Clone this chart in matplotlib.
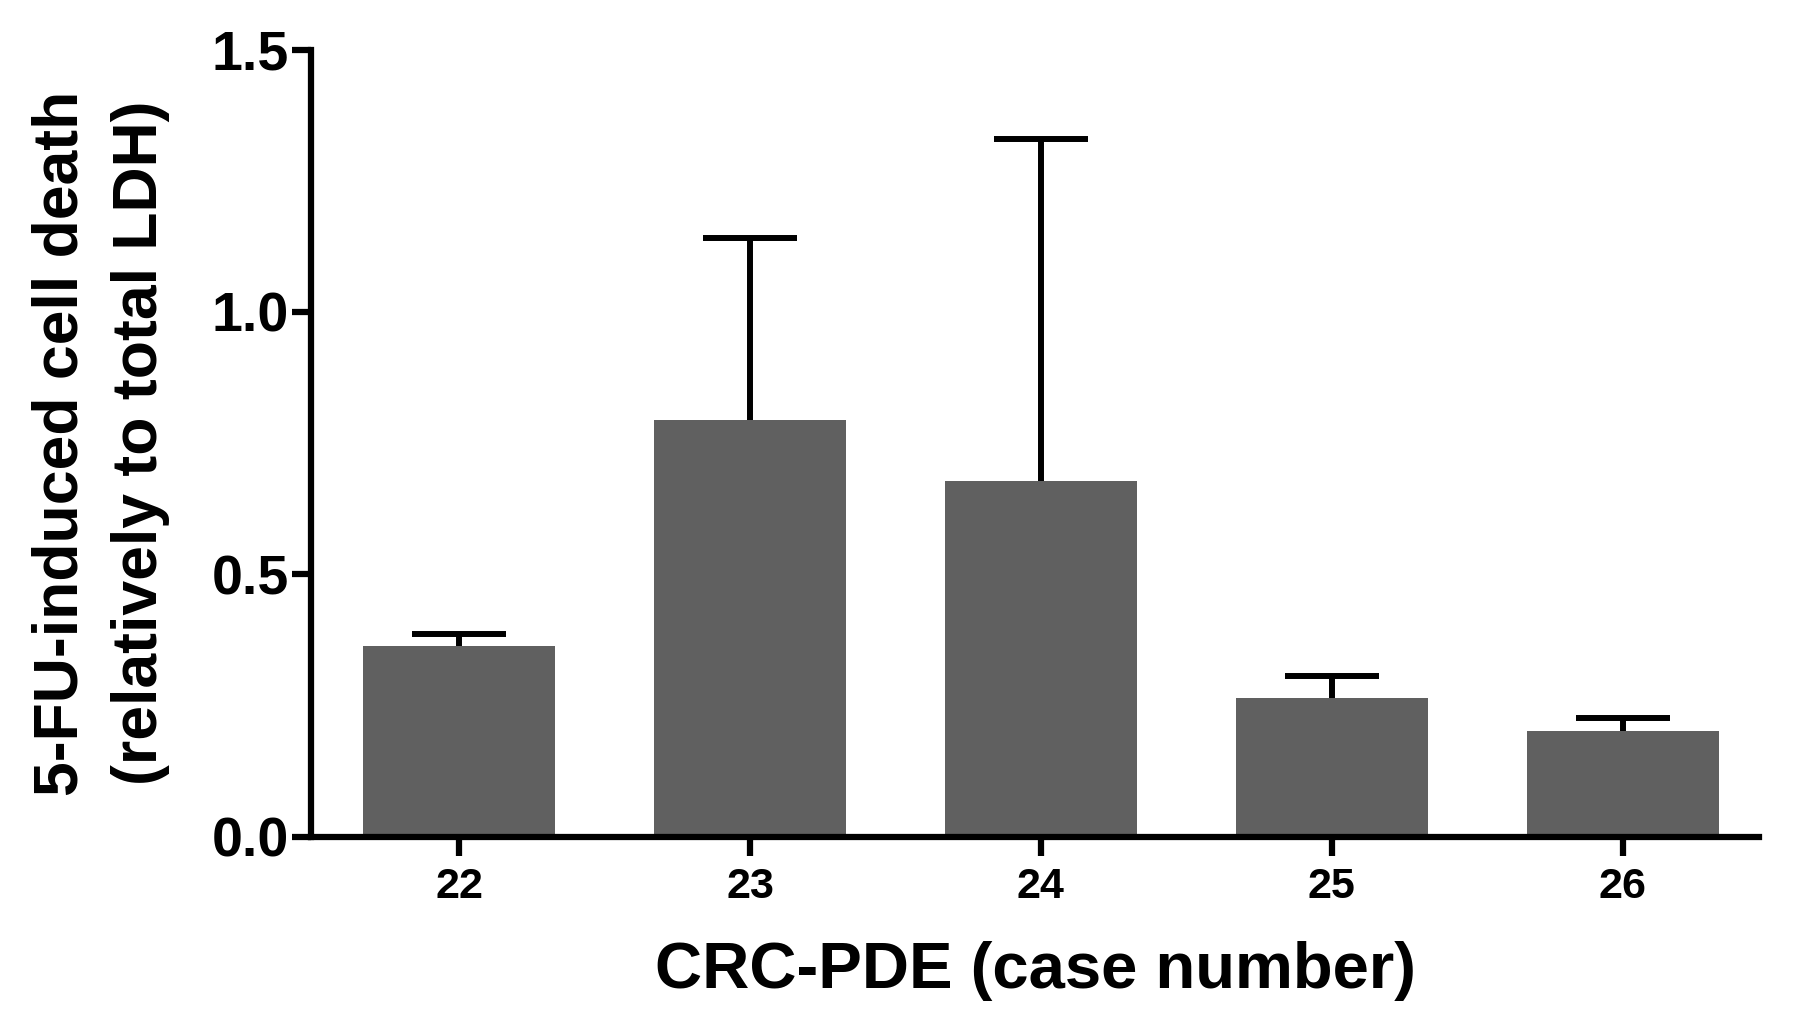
import matplotlib.pyplot as plt
import numpy as np

plt.rcParams['font.family'] = ['Liberation Sans', 'DejaVu Sans']
plt.rcParams['font.weight'] = 'bold'

cases = ['22', '23', '24', '25', '26']
means = [0.364, 0.794, 0.678, 0.265, 0.202]
upper = [0.386, 1.140, 1.329, 0.307, 0.226]

err = np.array(upper) - np.array(means)
x = np.arange(len(cases))

fig = plt.figure(figsize=(17.97, 10.33), dpi=100)
ax = fig.add_axes([0.173, 0.190, 0.806, 0.762])

ax.bar(x, means, width=0.66, color='#606060', edgecolor='none', zorder=2)
eb = ax.errorbar(x, means, yerr=[np.zeros(len(x)), err], fmt='none',
                 ecolor='black', elinewidth=4.3, capsize=34, capthick=4.3, zorder=1)
# only the upper caps are drawn in the original
eb[1][0].set_visible(False)

ax.set_xlim(-0.51, 4.47)
ax.set_ylim(0, 1.5)
ax.set_yticks([0.0, 0.5, 1.0, 1.5])
ax.set_yticklabels(['0.0', '0.5', '1.0', '1.5'])
ax.set_xticks(x)
ax.set_xticklabels(cases)

for s in ['top', 'right']:
    ax.spines[s].set_visible(False)
for s in ['left', 'bottom']:
    ax.spines[s].set_linewidth(4.5)
    ax.spines[s].set_zorder(3)

ax.tick_params(axis='y', length=14, width=4.5, labelsize=40, pad=2)
ax.tick_params(axis='x', length=14, width=4.5, labelsize=31, pad=8)

ax.set_xlabel('CRC-PDE (case number)', fontsize=47, fontweight='bold', labelpad=24)
ax.set_ylabel('5-FU-induced cell death\n(relatively to total LDH)', fontsize=45,
              fontweight='bold', labelpad=30, linespacing=1.45)

plt.savefig('out.png', dpi=100)
